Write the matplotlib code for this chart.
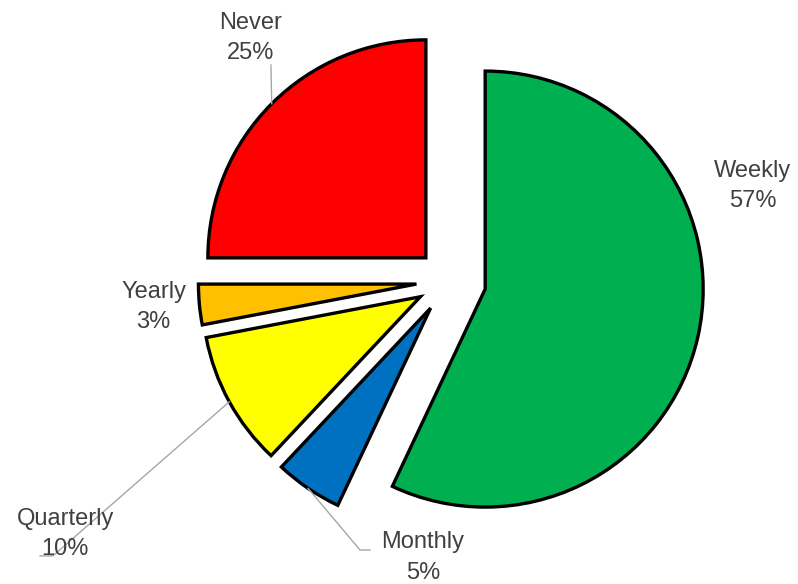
import numpy as np
import matplotlib
matplotlib.use("Agg")
import matplotlib.pyplot as plt

# survey answers, clockwise from 12 o'clock
labels = ["Weekly", "Monthly", "Quarterly", "Yearly", "Never"]
shares = [57, 5, 10, 3, 25]
colors = ["#00B050", "#0070C0", "#FFFF00", "#FFC000", "#FF0000"]

# label centres (data units, pie radius = 1)
label_pos = [(1.394, 0.436), (-0.119, -1.268), (-1.761, -1.161),
             (-1.355, -0.119), (-0.908, 1.115)]
# leader line bends / ends, None = no leader
leader_path = [None,
               [(-0.408, -1.234), (-0.362, -1.234)],
               [(-1.817, -1.261), (-1.876, -1.261)],
               None,
               [(-0.817, 0.991)]]

plt.rcParams['font.family'] = ['Liberation Sans', 'DejaVu Sans']

fig = plt.figure(figsize=(7.98, 5.84), dpi=100)
ax = fig.add_axes([0, 0, 1, 1])

wedges, _ = ax.pie(shares, colors=colors, startangle=90, counterclock=False,
                   explode=[0.17, 0.15, 0.15, 0.15, 0.15], radius=1,
                   wedgeprops=dict(edgecolor="black", linewidth=2.4))

for w, name, val, pos, path in zip(wedges, labels, shares, label_pos, leader_path):
    if path is not None:
        mid = np.deg2rad((w.theta1 + w.theta2) / 2)
        cx, cy = w.center
        start = (cx + w.r * np.cos(mid), cy + w.r * np.sin(mid))
        pts = [start] + path
        ax.plot([p[0] for p in pts], [p[1] for p in pts], color="#A6A6A6",
                linewidth=1.0, zorder=4)
    ax.text(pos[0], pos[1], f"{name}\n{val}%", ha="center", va="center",
            fontsize=17, color="#404040", linespacing=1.5, zorder=5)

s = 218.0
ax.set_xlim(-449 / s, (798 - 449) / s)
ax.set_ylim(-(584 - 281) / s, 281 / s)
ax.set_aspect("auto")
ax.axis("off")

fig.savefig("out.png", dpi=100)
